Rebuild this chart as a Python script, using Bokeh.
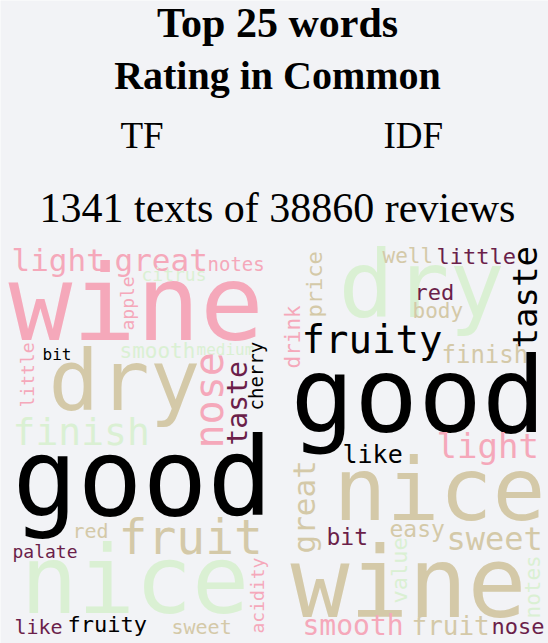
from bokeh.plotting import figure
from bokeh.models import ColumnDataSource, Range1d, Label
from bokeh.core.properties import value
from bokeh.embed import file_html
from bokeh.resources import INLINE

BG = "#f2f3f6"
PALETTE = {"pink": "#f5a8ba", "tan": "#d4c9a8", "green": "#daf0d3",
           "maroon": "#6b1f4a", "black": "#000000"}

# ---- TF word cloud (left) ----
tf_words = ["wine", "light", "great", "notes", "citrus", "apple", "smooth", "medium",
            "bit", "little", "dry", "nose", "taste", "cherry", "finish", "good",
            "fruit", "red", "palate", "nice", "acidity", "like", "fruity", "sweet"]
tf_sizes = [106, 31, 31, 19, 18, 18, 21, 16, 16, 18, 84, 40, 28, 19, 38, 108,
            48, 20, 18, 95, 18, 20, 22, 20]
tf_x = [8, 11, 114, 207, 141, 133, 119, 196, 42, 33, 48, 222, 247, 262, 12, 12,
        118, 72, 12, 20, 263, 14, 67, 171]
tf_y = [340, 270, 270, 270, 280, 330, 358, 355, 360, 407, 410, 448, 445, 410, 445, 515,
        553, 537, 557, 613, 633, 633, 632, 633]
tf_colors = ["pink", "pink", "pink", "pink", "green", "pink", "green", "green",
             "black", "pink", "tan", "pink", "maroon", "black", "green", "black",
             "tan", "tan", "maroon", "green", "pink", "maroon", "black", "tan"]
tf_rot = [0, 0, 0, 0, 0, 90, 0, 0, 0, 90, 0, 90, 90, 90, 0, 0,
          0, 0, 0, 0, 90, 0, 0, 0]

# ---- IDF word cloud (right) ----
idf_words = ["dry", "well", "little", "taste", "price", "red", "body", "drink",
             "fruity", "finish", "good", "light", "like", "nice", "great", "bit",
             "easy", "sweet", "wine", "value", "notes", "smooth", "fruit", "nose"]
idf_sizes = [92, 21, 22, 34, 22, 22, 21, 21, 39, 24, 106, 34, 25, 88, 31, 23,
             23, 32, 98, 22, 21, 28, 26, 22]
idf_x = [338, 382, 436, 536, 322, 414, 412, 300, 301, 441, 290, 436, 342, 333, 314, 326,
         389, 446, 290, 407, 540, 302, 411, 491]
idf_y = [317, 263, 264, 348, 317, 300, 318, 368, 353, 363, 432, 457, 463, 520, 553, 545,
         537, 550, 617, 603, 618, 635, 635, 634]
idf_colors = ["green", "tan", "maroon", "black", "tan", "maroon", "tan", "pink",
              "black", "tan", "black", "pink", "black", "tan", "tan", "maroon",
              "tan", "tan", "tan", "green", "green", "pink", "tan", "maroon"]
idf_rot = [0, 0, 0, 90, 90, 0, 0, 90, 0, 0, 0, 0, 0, 0, 90, 0,
           0, 0, 0, 90, 90, 0, 0, 0]

title_lines = ["Top 25 words", "Rating in Common"]
col_labels = ["TF", "IDF"]
subtitle = "1341 texts of 38860 reviews"

# the svg text is placed about this fraction of an em below the requested baseline
BASELINE_FIX = 0.35

W, H = 548, 643
p = figure(width=W, height=H, output_backend="svg", toolbar_location=None,
           x_range=Range1d(0, W), y_range=Range1d(H, 0), min_border=0)
p.axis.visible = False
p.grid.visible = False
p.outline_line_color = None
p.background_fill_color = BG
p.border_fill_color = BG


def cloud(words, sizes, xs, ys, colors, rots):
    src = ColumnDataSource(dict(
        x=xs, y=ys, text=words,
        size=[f"{s}px" for s in sizes],
        color=[PALETTE[c] for c in colors],
        angle=rots,
        xo=[-BASELINE_FIX * s if r else 0 for s, r in zip(sizes, rots)],
        yo=[0 if r else -BASELINE_FIX * s for s, r in zip(sizes, rots)],
    ))
    p.text(x="x", y="y", text="text", source=src, text_font=value("DejaVu Sans Mono"),
           text_font_size="size", text_color="color", angle="angle", angle_units="deg",
           x_offset="xo", y_offset="yo",
           text_align="left", text_baseline="alphabetic")


cloud(tf_words, tf_sizes, tf_x, tf_y, tf_colors, tf_rot)
cloud(idf_words, idf_sizes, idf_x, idf_y, idf_colors, idf_rot)

serif = "Liberation Serif"


def label(x, y, text, size, bold=False, align="center"):
    p.add_layout(Label(x=x, y=y, text=text, text_font=serif, text_font_size=f"{size}px",
                       text_font_style="bold" if bold else "normal", text_color="black",
                       text_align=align, text_baseline="alphabetic",
                       y_offset=BASELINE_FIX * size))


label(277, 37, title_lines[0], 42, bold=True)
label(277, 89, title_lines[1], 40, bold=True)
label(120, 148, col_labels[0], 37, align="left")
label(383, 148, col_labels[1], 37, align="left")
label(277, 222, subtitle, 42)

open("out.html", "w").write(file_html(p, INLINE))
